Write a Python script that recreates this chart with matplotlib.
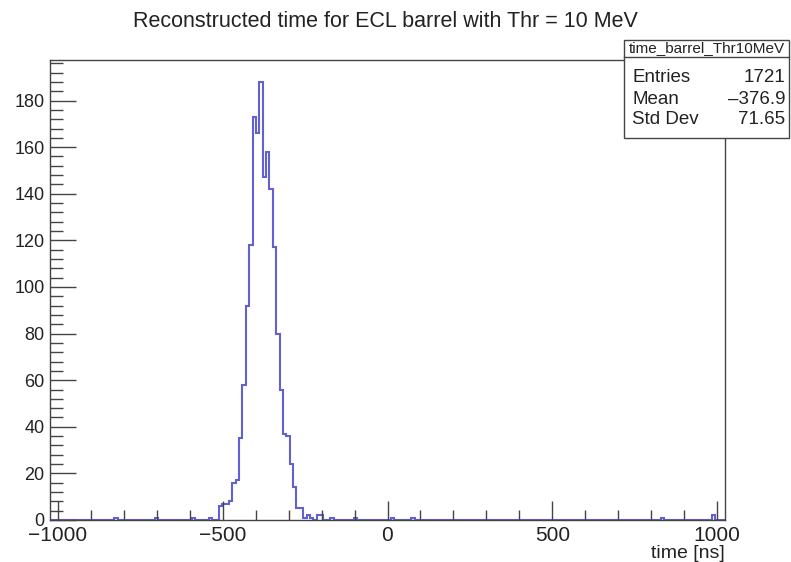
import numpy as np

import matplotlib
matplotlib.use('Agg')
import matplotlib.pyplot as plt
from matplotlib.patches import Rectangle
from matplotlib.ticker import MultipleLocator

plt.rcParams.update({
    'font.family': ['Liberation Sans', 'DejaVu Sans'],
    'font.size': 12,
    'axes.unicode_minus': True,
})

# histogram binning (ROOT style TH1)
X_MIN, X_MAX, N_BINS = -1024.0, 1024.0, 200
PEAK_START = -512.0

# counts of the main peak, consecutive bins starting at PEAK_START
peak_counts = [6, 7, 7, 8, 16, 17, 35, 58, 92, 118, 173, 166, 188, 147, 158,
               142, 117, 80, 56, 37, 36, 24, 14, 5, 5, 1]

# isolated entries outside the peak
stray_times = [-825, -704, -587, -542, -240, -230, -215, -195, -165, -95,
               11, 76, 836, 992]
stray_counts = [1, 1, 1, 1, 2, 1, 2, 2, 1, 1, 1, 1, 1, 2]

hist_name = 'time_barrel_Thr10MeV'
stat_labels = ['Entries', 'Mean', 'Std Dev']
stat_values = ['1721', '\u2013376.9', '71.65']

TEXT = '#222222'
LINE = '#5050d0'


def build_counts():
    width = (X_MAX - X_MIN) / N_BINS
    edges = X_MIN + width * np.arange(N_BINS + 1)
    counts = np.zeros(N_BINS)
    i0 = int(round((PEAK_START - X_MIN) / width))
    counts[i0:i0 + len(peak_counts)] = peak_counts
    for t, c in zip(stray_times, stray_counts):
        counts[int((t - X_MIN) // width)] += c
    return edges, counts


def main():
    edges, counts = build_counts()

    fig = plt.figure(figsize=(7.91, 5.62), dpi=100)
    W, H = 791, 562
    ax = fig.add_axes([50 / W, 1 - 520 / H, 675 / W, 460 / H])

    ax.stairs(counts, edges, color=LINE, lw=1.5, alpha=0.9)

    ax.set_xlim(X_MIN, X_MAX)
    ax.set_ylim(0, counts.max() * 1.05)

    ax.xaxis.set_major_locator(MultipleLocator(500))
    ax.xaxis.set_minor_locator(MultipleLocator(100))
    ax.yaxis.set_major_locator(MultipleLocator(20))
    ax.yaxis.set_minor_locator(MultipleLocator(4))

    ax.tick_params(axis='both', which='both', direction='in', colors='#444444',
                   labelcolor=TEXT, top=False, right=False, width=1)
    ax.tick_params(axis='x', which='major', length=14, pad=4, labelsize=15)
    ax.tick_params(axis='x', which='minor', length=7)
    ax.tick_params(axis='y', which='major', length=19, pad=4, labelsize=13)
    ax.tick_params(axis='y', which='minor', length=9)

    for s in ax.spines.values():
        s.set_color('#444444')
        s.set_linewidth(1.0)

    ax.set_xlabel('time [ns]', loc='right', fontsize=14, color=TEXT, labelpad=0)

    fig.text(0.487, 0.962, 'Reconstructed time for ECL barrel with Thr = 10 MeV',
             ha='center', va='center', fontsize=15.5, color=TEXT)

    # stats box
    bx0, bx1, by0, by1, bsep = 624, 789, 40, 138, 57
    fig.add_artist(Rectangle((bx0 / W, 1 - by1 / H), (bx1 - bx0) / W,
                             (by1 - by0) / H, transform=fig.transFigure,
                             facecolor='white', edgecolor='#444444', lw=1.0,
                             zorder=5))
    fig.add_artist(plt.Line2D([bx0 / W, bx1 / W], [1 - bsep / H, 1 - bsep / H],
                              transform=fig.transFigure, color='#444444',
                              lw=1.0, zorder=6))
    fig.text((bx0 + bx1) / 2 / W, 1 - (by0 + bsep) / 2 / H, hist_name,
             ha='center', va='center', fontsize=11, color=TEXT, zorder=7)
    row_y = [78, 99, 120]
    for lab, val, y in zip(stat_labels, stat_values, row_y):
        fig.text((bx0 + 8) / W, 1 - y / H, lab, ha='left', va='center',
                 fontsize=13.5, color=TEXT, zorder=7)
        fig.text((bx1 - 4) / W, 1 - y / H, val, ha='right', va='center',
                 fontsize=13.5, color=TEXT, zorder=7)

    fig.savefig('out.png', dpi=100)
    plt.close(fig)


if __name__ == '__main__':
    main()
